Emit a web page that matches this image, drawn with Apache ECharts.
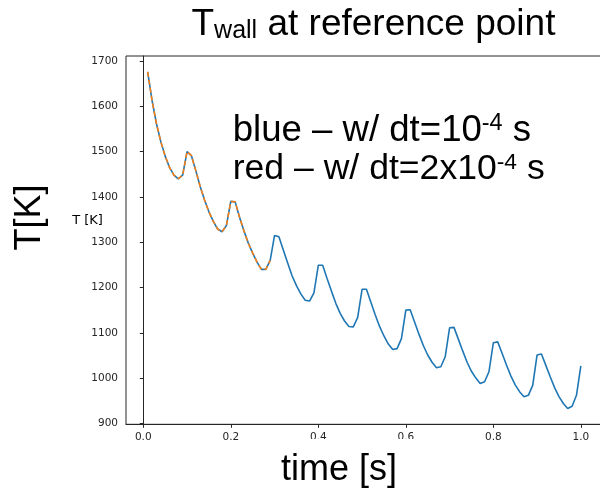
<!DOCTYPE html>
<html>
<head>
<meta charset="utf-8">
<title>Twall at reference point</title>
<script src="https://cdn.jsdelivr.net/npm/echarts@6/dist/echarts.min.js"></script>
</head>
<body style="margin:0;padding:0;background:#fff;">
<div id="main" style="width:600px;height:491px;"></div>
<script type="text/javascript">
// time [s], sampled every 0.01 s
var times = [
  0.01, 0.02, 0.03, 0.04, 0.05, 0.06, 0.07, 0.08, 0.09, 0.10,
  0.11, 0.12, 0.13, 0.14, 0.15, 0.16, 0.17, 0.18, 0.19, 0.20,
  0.21, 0.22, 0.23, 0.24, 0.25, 0.26, 0.27, 0.28, 0.29, 0.30,
  0.31, 0.32, 0.33, 0.34, 0.35, 0.36, 0.37, 0.38, 0.39, 0.40,
  0.41, 0.42, 0.43, 0.44, 0.45, 0.46, 0.47, 0.48, 0.49, 0.50,
  0.51, 0.52, 0.53, 0.54, 0.55, 0.56, 0.57, 0.58, 0.59, 0.60,
  0.61, 0.62, 0.63, 0.64, 0.65, 0.66, 0.67, 0.68, 0.69, 0.70,
  0.71, 0.72, 0.73, 0.74, 0.75, 0.76, 0.77, 0.78, 0.79, 0.80,
  0.81, 0.82, 0.83, 0.84, 0.85, 0.86, 0.87, 0.88, 0.89, 0.90,
  0.91, 0.92, 0.93, 0.94, 0.95, 0.96, 0.97, 0.98, 0.99, 1.00
];
// blue: dt = 1e-4 s
var blueT = [
  1676, 1613, 1562, 1522, 1490, 1465, 1448, 1440, 1448, 1500,
  1491, 1458, 1423, 1393, 1367, 1346, 1329, 1323, 1337, 1390,
  1389, 1355, 1325, 1298, 1276, 1256, 1240, 1240, 1260, 1315,
  1312, 1283, 1254, 1226, 1204, 1186, 1172, 1170, 1188, 1249,
  1249, 1220, 1192, 1165, 1143, 1126, 1114, 1113, 1134, 1196,
  1196, 1168, 1140, 1114, 1093, 1075, 1063, 1065, 1087, 1150,
  1151, 1124, 1097, 1072, 1051, 1035, 1023, 1025, 1047, 1111,
  1112, 1086, 1060, 1035, 1015, 1000, 988, 992, 1014, 1078,
  1080, 1055, 1029, 1005, 985, 970, 959, 962, 984, 1051,
  1053, 1028, 1003, 979, 959, 944, 933, 938, 962, 1027
];
// red (orange dashed): dt = 2e-4 s, shorter run
var redTimes = [
  0.01, 0.02, 0.03, 0.04, 0.05, 0.06, 0.07, 0.08, 0.09, 0.10,
  0.11, 0.12, 0.13, 0.14, 0.15, 0.16, 0.17, 0.18, 0.19, 0.20,
  0.21, 0.22, 0.23, 0.24, 0.25, 0.26, 0.27, 0.28, 0.29
];
var redT = [
  1676, 1613, 1562, 1522, 1490, 1465, 1448, 1440, 1448, 1500,
  1491, 1458, 1423, 1393, 1367, 1346, 1329, 1323, 1337, 1390,
  1389, 1355, 1325, 1298, 1276, 1256, 1240, 1240, 1260
];
var xTicks = [0.0, 0.2, 0.4, 0.6, 0.8, 1.0];
var yTicks = [900, 1000, 1100, 1200, 1300, 1400, 1500, 1600, 1700];

function pairs(xs, ys) {
  var out = [];
  for (var i = 0; i < xs.length; i++) {
    out.push([xs[i], ys[i]]);
  }
  return out;
}

var sans = '"Liberation Sans", Arial, sans-serif';
var tickFont = '"DejaVu Sans", sans-serif';
var ink = '#262626';

var myChart = echarts.init(document.getElementById('main'));
var option = {
  animation: false,
  backgroundColor: '#fff',
  grid: {
    left: 126, top: 56, width: 476.5, height: 368.3,
    show: true, borderColor: ink, borderWidth: 1,
    outerBoundsMode: 'none'
  },
  xAxis: {
    type: 'value', min: -0.0395, max: 1.0495,
    axisLine: { onZero: false, lineStyle: { color: ink, width: 1 } },
    axisTick: { customValues: xTicks, length: 3.5, lineStyle: { color: ink } },
    axisLabel: {
      customValues: xTicks, margin: 7, fontFamily: tickFont, fontSize: 10.5, color: ink,
      formatter: function (v) { return v.toFixed(1); }
    },
    splitLine: { show: false }
  },
  yAxis: {
    type: 'value', min: 898, max: 1711,
    axisLine: { show: true, lineStyle: { color: ink, width: 1 } },
    axisTick: { show: true, customValues: yTicks, length: 3.5, lineStyle: { color: ink } },
    axisLabel: {
      customValues: yTicks, margin: 8, fontFamily: tickFont, fontSize: 10.5, color: ink,
      formatter: function (v) { return String(v); }
    },
    splitLine: { show: false }
  },
  series: [
    {
      type: 'line', data: pairs(times, blueT), showSymbol: false, z: 2,
      lineStyle: { color: '#1f77b4', width: 1.6 }
    },
    {
      type: 'line', data: pairs(redTimes, redT), showSymbol: false, z: 3,
      lineStyle: { color: '#ff7f0e', width: 1.5, type: [5, 3] }
    }
  ],
  graphic: [
    // white box of the x label that clips part of the 0.4 / 0.6 tick labels
    { type: 'rect', x: 295, y: 439, z: 50, shape: { width: 170, height: 14 }, style: { fill: '#fff' } },
    {
      type: 'text', x: 191.5, y: 6.7, z: 60,
      style: {
        text: '{m|T}{s|wall}{m| at reference point}',
        textVerticalAlign: 'top', textAlign: 'left',
        rich: {
          m: { fontSize: 37, fontFamily: sans, fill: '#000', lineHeight: 37 },
          s: { fontSize: 25, fontFamily: sans, fill: '#000', lineHeight: 4, verticalAlign: 'bottom' }
        }
      }
    },
    {
      type: 'text', x: 232.7, y: 112.5, z: 60,
      style: {
        text: '{m|blue – w/ dt=10}{p|-4}{m| s}',
        textVerticalAlign: 'top', textAlign: 'left',
        rich: {
          m: { fontSize: 36.6, fontFamily: sans, fill: '#000', lineHeight: 36 },
          p: { fontSize: 23.4, fontFamily: sans, fill: '#000', lineHeight: 18, verticalAlign: 'top' }
        }
      }
    },
    {
      type: 'text', x: 232.7, y: 151.5, z: 60,
      style: {
        text: '{m|red – w/ dt=2x10}{p|-4}{m| s}',
        textVerticalAlign: 'top', textAlign: 'left',
        rich: {
          m: { fontSize: 35.6, fontFamily: sans, fill: '#000', lineHeight: 36 },
          p: { fontSize: 22.8, fontFamily: sans, fill: '#000', lineHeight: 18, verticalAlign: 'top' }
        }
      }
    },
    {
      type: 'text', x: 30.5, y: 217.5, rotation: Math.PI / 2, z: 60,
      style: { text: 'T[K]', font: '36px ' + sans, fill: '#000', textAlign: 'center', textVerticalAlign: 'middle' }
    },
    {
      type: 'text', x: 87.5, y: 221, z: 60,
      style: { text: 'T [K]', font: '13px ' + tickFont, fill: '#000', textAlign: 'center', textVerticalAlign: 'middle' }
    },
    {
      type: 'text', x: 339, y: 470.5, z: 60,
      style: { text: 'time [s]', font: '36px ' + sans, fill: '#000', textAlign: 'center', textVerticalAlign: 'middle' }
    }
  ]
};
myChart.setOption(option);
</script>
</body>
</html>
